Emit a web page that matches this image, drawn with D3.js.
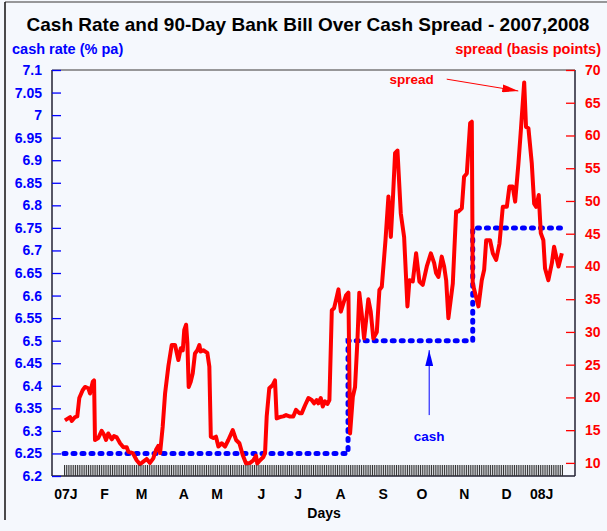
<!DOCTYPE html>
<html>
<head>
<meta charset="utf-8">
<script src="https://cdn.jsdelivr.net/npm/d3@7"></script>
<style>
  body { margin: 0; background: #F5F8FD; }
  svg { display: block; font-family: "Liberation Sans", Arial, sans-serif; font-weight: bold; }
</style>
</head>
<body>
<div id="chart"></div>
<script>
// trading-day index (0 = first trading day of 2007) for each spread reading
const spreadDays = [0.5,3.3,4.2,6,7.2,8.3,10.1,11.4,13.2,14.1,15.6,16.3,16.8,18.6,20.4,21.7,22.8,24.0,25.9,27.1,
  28.6,30.4,32.2,34.0,34.9,37.3,39.4,41.2,43.0,44.8,46.6,48.4,49.9,51.1,52.1,53.5,54.8,56.6,58.4,60.2,
  62.0,63.3,64.4,65.2,66.2,66.9,67.6,68.7,69.8,71.0,72.3,73.4,74.1,75.5,77.7,78.8,79.6,81.0,82.4,83.7,
  85.5,87.3,89.1,91.5,93.3,95.1,96.9,98.7,100.9,102.7,104.1,104.8,106.3,108.1,109.0,109.9,111.3,113.2,114.4,115.3,
  117.1,118.9,120.4,122.2,124.3,125.8,127.6,128.9,130.7,132.5,134.3,135.6,137.0,137.9,139.2,140.3,141.5,142.8,143.9,145.2,
  146.4,147.5,148.8,150.1,151.5,152.9,154.2,155.1,156.6,157.8,159.1,160.1,161.4,162.7,163.8,165.0,166.3,167.7,169.6,171.0,
  172.3,174.3,175.9,177.2,178.3,179.5,180.8,182.6,184.4,186.2,187.3,189.1,190.9,192.7,194.5,196.7,198.9,200.7,201.7,203.0,
  204.8,206.1,207.2,208.4,210.8,212.6,213.8,215.7,216.9,218.4,220.2,221.1,221.6,222.9,224.7,226.5,227.8,228.9,231.0,232.5,
  234.3,236.1,237.9,240.1,241.5,243.3,244.6,246.4,247.7,249.5,250.5,251.8,253.6,254.9,256.0,257.4,258.5,259.9,260.8,262.6,
  264.5,265.7,268.1,269.9];
// 90-day bank bill over cash spread, basis points
const spreadBp = [16.5,17.0,16.4,17.0,17.1,19.9,21.1,21.6,21.4,20.6,22.4,22.6,13.5,13.8,14.9,14.3,13.5,14.5,13.6,14.1,
  13.9,13.0,12.4,12.4,11.7,11.5,10.4,9.8,10.2,10.6,10.0,10.7,12.0,12.6,11.5,15.5,20.6,24.8,28.0,28.0,
  25.7,27.5,27.2,30.3,31.1,28.3,21.6,22.4,23.7,26.7,27.2,28.0,27.0,27.2,26.8,24.7,14.0,13.8,14.0,12.5,
  13.0,12.5,13.5,15.0,13.5,13.0,11.2,9.9,10.0,10.4,11.1,9.9,10.4,10.9,11.5,17.1,21.4,21.9,22.6,16.8,
  17.0,17.1,17.3,17.1,17.1,18.1,17.6,17.6,18.8,19.9,19.6,19.1,19.6,19.1,19.9,18.6,19.4,19.0,19.6,33.3,
  33.6,34.9,36.5,33.1,34.4,35.6,36.0,14.5,20.1,21.6,28.8,36.0,32.8,29.0,31.8,35.0,33.1,29.0,30.0,36.4,
  36.9,44.0,50.7,44.5,50.2,57.3,57.7,48.1,44.5,33.9,37.9,37.7,42.0,37.7,37.2,40.0,42.0,40.5,39.0,38.4,
  41.5,40.0,37.9,32.1,37.4,48.4,48.4,48.9,53.7,54.2,61.9,62.1,37.4,35.9,33.9,37.9,39.5,44.0,44.0,42.0,
  41.0,43.5,49.1,49.1,52.2,52.2,49.9,55.8,60.8,68.1,61.3,61.1,55.8,49.6,49.1,50.9,45.1,44.0,39.7,37.9,
  40.5,43.0,40.0,42.0];

// cash rate changes (step after)
const cashDays = [0, 154, 221.6, 270];
const cashRates = [6.25, 6.5, 6.75, 6.75];

const monthLabels = ["07J","F","M","A","M","J","J","A","S","O","N","D","08J"];
const monthDays = [1, 22, 42, 65, 83, 107, 127, 150, 173, 194, 217, 240, 259];

const leftTicks = d3.range(0, 19).map(i => +(6.2 + i * 0.05).toFixed(2));
const rightTicks = d3.range(10, 71, 5);

const W = 607, H = 531;
const margin = { top: 70, left: 52, right: 32, bottom: 55 };
const width = W - margin.left - margin.right;   // 523
const height = H - margin.top - margin.bottom;  // 406

const svg = d3.select("#chart").append("svg")
    .attr("width", W)
    .attr("height", H);

// page background + outer frame (top and left only visible)
svg.append("rect").attr("width", W).attr("height", H).attr("fill", "#F5F8FD");
svg.append("line").attr("x1", 5).attr("x2", W).attr("y1", 2).attr("y2", 2)
    .attr("stroke", "#777").attr("stroke-width", 1.5);
svg.append("line").attr("x1", 5).attr("x2", 5).attr("y1", 2).attr("y2", 520)
    .attr("stroke", "#111").attr("stroke-width", 1.5);

svg.append("text")
    .attr("x", 308).attr("y", 31)
    .attr("text-anchor", "middle")
    .style("font-size", "19px")
    .attr("fill", "#000")
    .text("Cash Rate and 90-Day Bank Bill Over Cash Spread - 2007,2008");

svg.append("text")
    .attr("x", 12).attr("y", 54)
    .style("font-size", "14.5px")
    .attr("fill", "#0000FF")
    .text("cash rate (% pa)");

svg.append("text")
    .attr("x", 601).attr("y", 54)
    .attr("text-anchor", "end")
    .style("font-size", "14.5px")
    .attr("fill", "#FF0000")
    .text("spread (basis points)");

const g = svg.append("g")
    .attr("transform", `translate(${margin.left}, ${margin.top})`);

const xScale = d3.scaleLinear().domain([0, 270]).range([12, 510]);
const yLeft = d3.scaleLinear().domain([6.2, 7.1]).range([height, 0]);
const yRight = d3.scaleLinear().domain([8, 70]).range([height, 0]);

// frame
g.append("line").attr("x1", 0).attr("x2", width).attr("y1", 0).attr("y2", 0)
    .attr("stroke", "#777").attr("stroke-width", 1.5);
g.append("line").attr("x1", 0).attr("x2", 0).attr("y1", 0).attr("y2", height)
    .attr("stroke", "#223").attr("stroke-width", 1.5);
g.append("line").attr("x1", width).attr("x2", width).attr("y1", 0).attr("y2", height)
    .attr("stroke", "#223").attr("stroke-width", 1.5);
g.append("line").attr("x1", 0).attr("x2", width).attr("y1", height).attr("y2", height)
    .attr("stroke", "#223").attr("stroke-width", 1.5);

// left axis (cash rate)
const leftAxis = g.append("g")
    .call(d3.axisLeft(yLeft).tickValues(leftTicks).tickSizeInner(-9).tickSizeOuter(0)
        .tickPadding(10).tickFormat(d => String(+d.toFixed(2))));
leftAxis.select(".domain").remove();
leftAxis.selectAll("line").attr("stroke", "#0000FF").attr("stroke-width", 1.3);
leftAxis.selectAll("text").attr("fill", "#0000FF")
    .style("font-size", "14px").style("font-family", "'Liberation Sans', Arial, sans-serif")
    .style("font-weight", "bold");

// right axis (spread)
const rightAxis = g.append("g")
    .attr("transform", `translate(${width}, 0)`)
    .call(d3.axisRight(yRight).tickValues(rightTicks).tickSizeInner(-9).tickSizeOuter(0).tickPadding(10));
rightAxis.select(".domain").remove();
rightAxis.selectAll("line").attr("stroke", "#FF0000").attr("stroke-width", 1.3);
rightAxis.selectAll("text").attr("fill", "#FF0000")
    .style("font-size", "14px").style("font-family", "'Liberation Sans', Arial, sans-serif")
    .style("font-weight", "bold");

// cash rate dotted step line
const cashLine = d3.line()
    .x(d => xScale(d[0]))
    .y(d => yLeft(d[1]))
    .curve(d3.curveStepAfter);

g.append("path")
    .datum(cashDays.map((d, i) => [d, cashRates[i]]))
    .attr("d", cashLine)
    .attr("fill", "none")
    .attr("stroke", "#0000FF")
    .attr("stroke-width", 5)
    .attr("stroke-linecap", "round")
    .attr("stroke-dasharray", "2,7");

// spread line
const spreadLine = d3.line()
    .x(d => xScale(d[0]))
    .y(d => yRight(d[1]));

g.append("path")
    .datum(spreadDays.map((d, i) => [d, spreadBp[i]]))
    .attr("d", spreadLine)
    .attr("fill", "none")
    .attr("stroke", "#FF0000")
    .attr("stroke-width", 4)
    .attr("stroke-linejoin", "round");

// daily hatch ticks along the bottom
const hatch = g.append("g")
    .attr("transform", `translate(0, ${height})`)
    .call(d3.axisBottom(xScale).tickValues(d3.range(0, 271)).tickSizeInner(-11).tickSizeOuter(0).tickFormat(""));
hatch.select(".domain").remove();
hatch.selectAll("line").attr("stroke", "#333").attr("stroke-width", 1);

// month labels
g.selectAll(".month")
    .data(monthLabels)
    .enter()
    .append("text")
    .attr("class", "month")
    .attr("x", (d, i) => xScale(monthDays[i]))
    .attr("y", height + 23)
    .attr("text-anchor", "middle")
    .style("font-size", "14px")
    .attr("fill", "#000")
    .text(d => d);

g.append("text")
    .attr("x", xScale(141))
    .attr("y", height + 42)
    .attr("text-anchor", "middle")
    .style("font-size", "14px")
    .attr("fill", "#000")
    .text("Days");

// annotations
const defs = svg.append("defs");
[["arrowRed", "#FF0000"], ["arrowBlue", "#0000FF"]].forEach(([id, c]) => {
    defs.append("marker")
        .attr("id", id)
        .attr("viewBox", "0 0 16 8")
        .attr("refX", 16).attr("refY", 4)
        .attr("markerWidth", 16).attr("markerHeight", 8)
        .attr("markerUnits", "userSpaceOnUse")
        .attr("orient", "auto")
        .append("path")
        .attr("d", "M0,0 L16,4 L0,8 Z")
        .attr("fill", c);
});

g.append("text")
    .attr("x", xScale(188.5))
    .attr("y", yRight(67.8))
    .attr("text-anchor", "middle")
    .style("font-size", "13.5px")
    .attr("fill", "#FF0000")
    .text("spread");

g.append("line")
    .attr("x1", xScale(207.5)).attr("y1", yRight(68.6))
    .attr("x2", xScale(246.3)).attr("y2", yRight(66.8))
    .attr("stroke", "#FF0000").attr("stroke-width", 1)
    .attr("marker-end", "url(#arrowRed)");

g.append("line")
    .attr("x1", xScale(198)).attr("y1", yLeft(6.335))
    .attr("x2", xScale(198)).attr("y2", yLeft(6.479))
    .attr("stroke", "#0000FF").attr("stroke-width", 1)
    .attr("marker-end", "url(#arrowBlue)");

g.append("text")
    .attr("x", xScale(198))
    .attr("y", yLeft(6.25) - 12)
    .attr("text-anchor", "middle")
    .style("font-size", "13.5px")
    .attr("fill", "#0000FF")
    .text("cash");
</script>
</body>
</html>
